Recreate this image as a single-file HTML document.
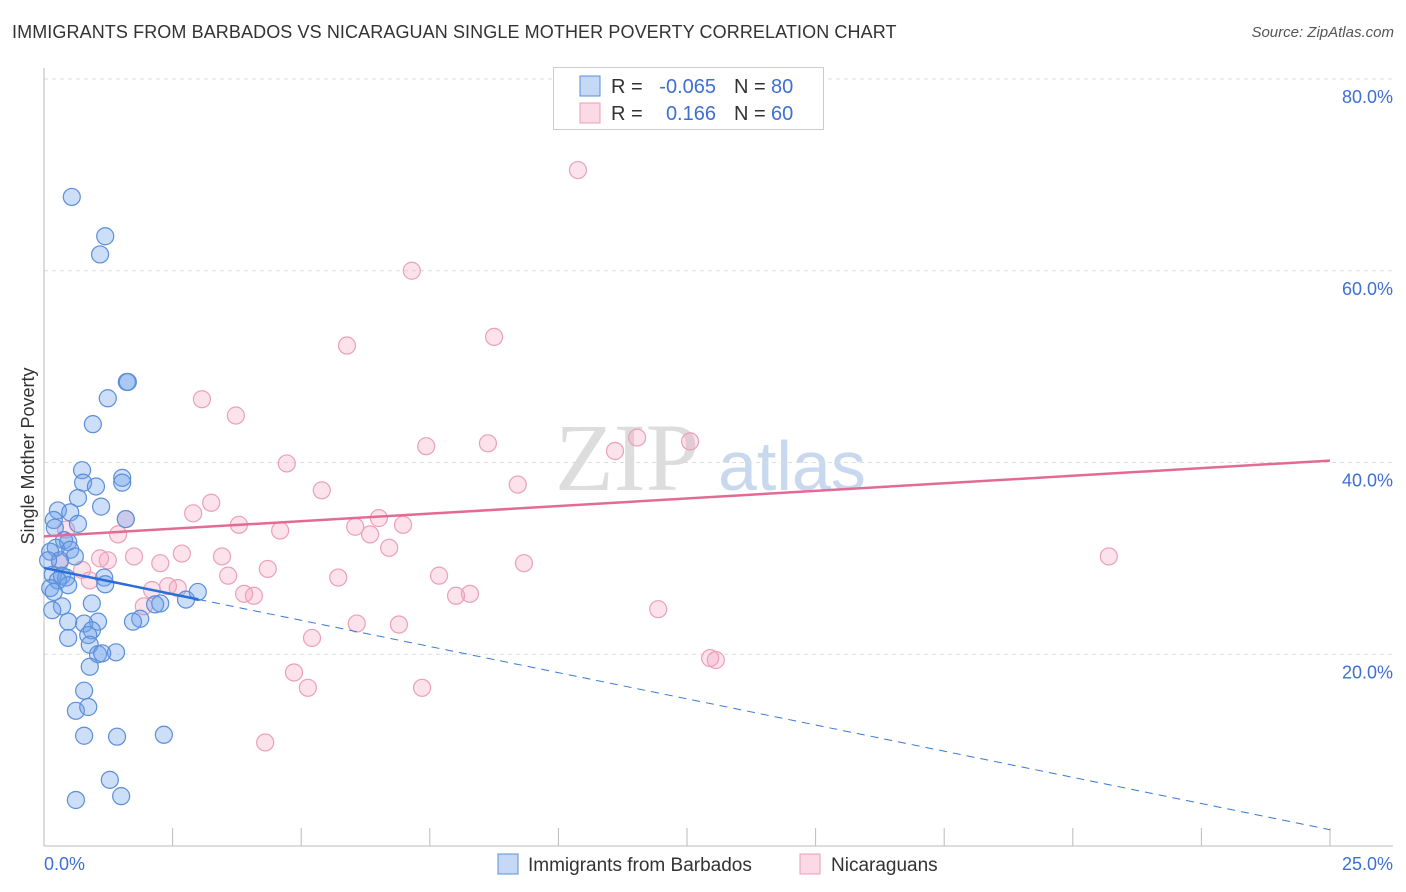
<!DOCTYPE html>
<html><head><meta charset="utf-8">
<style>
body{margin:0;background:#fff;font-family:"Liberation Sans",sans-serif;}
#wrap{position:relative;width:1406px;height:892px;overflow:hidden;}
.title{position:absolute;left:12px;top:22px;font-size:18px;color:#333;letter-spacing:0.1px}
.source{position:absolute;right:12px;top:24px;font-size:15px;color:#555;font-style:italic}
</style></head><body>
<div id="wrap">
<div class="title">IMMIGRANTS FROM BARBADOS VS NICARAGUAN SINGLE MOTHER POVERTY CORRELATION CHART</div>
<div class="source">Source: ZipAtlas.com</div>
<svg id="svg" width="1406" height="892" style="position:absolute;left:0;top:0"></svg>
</div>
<script>
const blueX=[0.54,1.19,1.09,1.61,1.63,1.24,0.95,0.74,1.52,1.52,0.76,1.01,0.66,1.11,0.27,0.51,1.59,0.19,0.66,0.21,0.39,0.47,0.23,0.51,0.12,0.60,0.31,0.08,1.17,1.19,0.17,0.35,0.43,0.27,0.47,0.12,0.19,0.93,2.26,2.76,2.99,2.16,0.35,0.16,0.47,1.05,0.78,1.87,1.73,0.93,0.86,0.47,0.89,1.40,1.05,1.13,0.89,0.78,0.62,0.86,0.78,1.42,2.33,1.28,0.62,1.50];
const blueY=[67.7,63.6,61.7,48.4,48.4,46.7,44.0,39.2,38.4,37.9,37.9,37.5,36.3,35.4,35.0,34.8,34.1,34.0,33.6,33.2,31.9,31.7,31.1,30.9,30.7,30.2,29.8,29.8,28.0,27.3,28.3,28.2,28.0,27.7,27.2,26.9,26.5,25.3,25.3,25.7,26.5,25.2,25.0,24.6,23.4,23.4,23.2,23.7,23.4,22.5,22.0,21.7,21.0,20.2,20.0,20.1,18.7,16.2,14.1,14.5,11.5,11.4,11.6,6.9,4.8,5.2];
const pinkX=[10.38,7.15,8.75,5.89,3.07,3.73,8.63,7.43,11.53,11.10,12.56,4.72,9.21,5.40,3.25,2.90,1.59,3.79,4.59,6.05,6.51,6.98,6.34,1.44,6.71,2.68,1.75,3.46,1.09,1.24,2.26,9.33,4.35,3.58,5.72,7.68,0.89,2.41,2.60,2.10,3.89,4.08,8.01,8.28,1.94,11.94,6.08,6.90,5.21,12.95,13.06,4.86,5.13,7.35,4.30,20.70,0.43,0.74,0.31];
const pinkY=[70.5,60.0,53.1,52.2,46.6,44.9,42.0,41.7,42.6,41.2,42.2,39.9,37.7,37.1,35.8,34.7,34.1,33.5,32.9,33.3,34.2,33.5,32.5,32.5,31.1,30.5,30.2,30.2,30.0,29.8,29.5,29.5,28.9,28.2,28.0,28.2,27.7,27.1,26.9,26.7,26.3,26.1,26.1,26.3,25.0,24.7,23.2,23.1,21.7,19.6,19.4,18.1,16.5,16.5,10.8,30.2,33.0,28.8,29.6];
const blueTrendY=[29.0,1.7];
const blueSolidEnd=3.0;
const pinkTrendY=[32.3,40.2];
const yTicks=[20,40,60,80];
const yTickLabels=["20.0%","40.0%","60.0%","80.0%"];
const xTicks=[0,2.5,5,7.5,10,12.5,15,17.5,20,22.5,25];

const NS="http://www.w3.org/2000/svg";
const svg=document.getElementById('svg');
const X=v=>44+v*51.44;
const Y=v=>846-v*9.5875;
function mk(tag,attrs,parent){const e=document.createElementNS(NS,tag);for(const k in attrs)e.setAttribute(k,attrs[k]);(parent||svg).appendChild(e);return e;}

// watermark
let wm=mk('text',{x:555,y:490,'font-size':96,'font-family':'Liberation Serif,serif',fill:'#ddd'});wm.textContent='ZIP';


let wm2=mk('text',{x:718,y:490,'font-size':70,'font-family':'Liberation Sans,sans-serif',fill:'#c8d8ee'});wm2.textContent='atlas';



// gridlines & y labels
yTicks.forEach((t,i)=>{
 const g=mk('line',{x1:44,x2:1393,y1:Y(t),y2:Y(t),stroke:'#ddd','stroke-dasharray':'4,4'});
 
 
 const l=mk('text',{x:1393,y:Y(t)+24,'text-anchor':'end','font-size':18,fill:'#3d6fd6'});l.textContent=yTickLabels[i];
 
 
});
const topg=mk('line',{x1:44,x2:1393,y1:Y(80),y2:Y(80),stroke:'#ddd','stroke-dasharray':'4,4'});
// axes
let ax=mk('line',{x1:44,x2:44,y1:68,y2:846,stroke:'#bbb'});


let bx=mk('line',{x1:44,x2:1393,y1:846,y2:846,stroke:'#bbb'});


xTicks.forEach(t=>{
 const tk=mk('line',{x1:X(t),x2:X(t),y1:828,y2:846,stroke:'#bbb'});
 
 
});
let xl0=mk('text',{x:44,y:870,'font-size':18,fill:'#3d6fd6'});xl0.textContent='0.0%';


let xl1=mk('text',{x:1393,y:870,'text-anchor':'end','font-size':18,fill:'#3d6fd6'});xl1.textContent='25.0%';


let yt=mk('text',{x:34,y:456,'font-size':18,fill:'#333','text-anchor':'middle',transform:'rotate(-90 34 456)'});yt.textContent='Single Mother Poverty';



// points
pinkX.forEach((v,i)=>{
 const c=mk('circle',{cx:X(v),cy:Y(pinkY[i]),r:8.5,fill:'rgba(244,160,190,0.3)',stroke:'#eba0b8','stroke-width':1.2});
 
 
});
blueX.forEach((v,i)=>{
 const c=mk('circle',{cx:X(v),cy:Y(blueY[i]),r:8.5,fill:'rgba(110,160,235,0.35)',stroke:'#5b8fd9','stroke-width':1.2});
 
 
});
// trends
const bAt=x=>blueTrendY[0]+(blueTrendY[1]-blueTrendY[0])*x/25;
let bd=mk('line',{x1:X(blueSolidEnd),y1:Y(bAt(blueSolidEnd)),x2:X(25),y2:Y(blueTrendY[1]),stroke:'#3a78d8','stroke-width':1,'stroke-dasharray':'8,6'});


let bs=mk('line',{x1:X(0),y1:Y(blueTrendY[0]),x2:X(blueSolidEnd),y2:Y(bAt(blueSolidEnd)),stroke:'#2a6fd6','stroke-width':2.5});


let pt=mk('line',{x1:X(0),y1:Y(pinkTrendY[0]),x2:X(25),y2:Y(pinkTrendY[1]),stroke:'#e46a96','stroke-width':2.5});



// legend box
const lg=mk('g',{});


mk('rect',{x:553.5,y:67.5,width:270,height:62,fill:'#fff',stroke:'#ccc'},lg);
mk('rect',{x:580,y:76,width:20,height:20,fill:'rgba(110,160,235,0.4)',stroke:'#5b8fd9'},lg);
mk('rect',{x:580,y:103,width:20,height:20,fill:'rgba(244,160,190,0.4)',stroke:'#eba0b8'},lg);
function lt(x,y,s,c,a){const t=mk('text',{x:x,y:y,'font-size':20,fill:c,'text-anchor':a||'start'},lg);t.textContent=s;return t;}
lt(611,93,'R =','#333');lt(716,93,'-0.065','#3d6fd6','end');lt(734,93,'N =','#333');lt(771,93,'80','#3d6fd6');
lt(611,120,'R =','#333');lt(716,120,'0.166','#3d6fd6','end');lt(734,120,'N =','#333');lt(771,120,'60','#3d6fd6');

// bottom legend
const bl=mk('g',{});


mk('rect',{x:498,y:854,width:20,height:20,fill:'rgba(110,160,235,0.4)',stroke:'#5b8fd9'},bl);
let t1=mk('text',{x:528,y:871,'font-size':19,fill:'#333'},bl);t1.textContent='Immigrants from Barbados';
mk('rect',{x:800,y:854,width:20,height:20,fill:'rgba(244,160,190,0.4)',stroke:'#eba0b8'},bl);
let t2=mk('text',{x:831,y:871,'font-size':19,fill:'#333'},bl);t2.textContent='Nicaraguans';
</script>
</body></html>
